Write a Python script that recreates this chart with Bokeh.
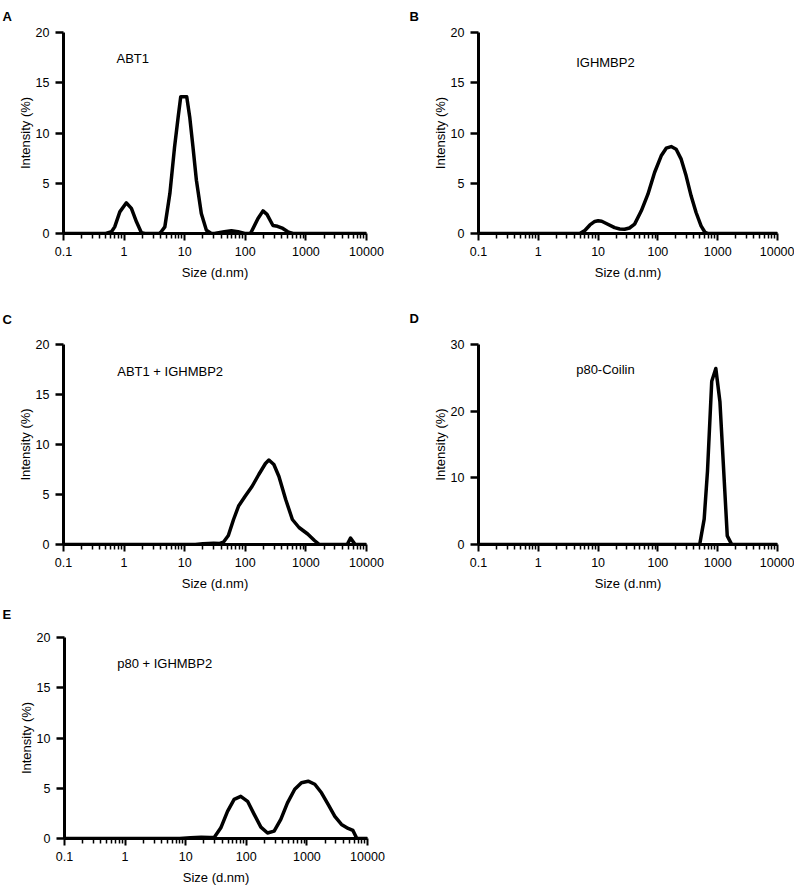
from bokeh.plotting import figure
from bokeh.models import Range1d, FixedTicker, CustomJSTickFormatter, Label
from bokeh.layouts import column, row
from bokeh.embed import file_html
from bokeh.resources import INLINE

FONT = "Liberation Sans"

# ---- data ----
x_major = [0.1, 1, 10, 100, 1000, 10000]
x_minor = [m * d for d in [0.1, 1, 10, 100, 1000] for m in range(2, 10)]
y_ticks_20 = [0, 5, 10, 15, 20]
y_ticks_30 = [0, 10, 20, 30]

abt1_size = [0.1, 0.5, 0.62, 0.70, 0.85, 1.09, 1.32, 1.6, 1.93, 2.2,
             3.8, 4.1, 4.7, 5.7, 6.8, 7.8, 8.6, 10.8, 12.1, 13.7, 15.6, 18.8, 22.8, 27.5,
             31, 45, 59, 76, 98, 120, 126, 162, 196, 228, 286, 340, 417, 503, 610, 10000]
abt1_int = [0, 0, 0.17, 0.66, 2.15, 3.05, 2.5, 1.16, 0.07, 0,
            0, 0.17, 0.66, 4.0, 8.6, 11.6, 13.6, 13.6, 11.6, 8.6, 5.3, 2.0, 0.33, 0,
            0, 0.17, 0.27, 0.17, 0, 0, 0.17, 1.5, 2.25, 1.9, 0.8, 0.72, 0.5, 0.17, 0, 0]

ighmbp2_size = [0.1, 4.94, 6.0, 7.3, 8.8, 10, 11.5, 13.7, 18.9, 23, 27.7, 33.5,
                40.8, 52.8, 68.1, 88, 113.6, 137.7, 166.8, 202, 245, 296.5, 359,
                435, 527, 615, 681, 10000]
ighmbp2_int = [0, 0, 0.3, 0.85, 1.2, 1.27, 1.22, 1.0, 0.58, 0.45, 0.42, 0.55,
               0.93, 2.26, 3.91, 6.07, 7.73, 8.49, 8.65, 8.39, 7.4, 5.74, 3.75,
               2.09, 0.76, 0.1, 0, 0]

mix_size = [0.1, 15, 20, 30, 38, 43.5, 52.5, 64, 77.5, 100, 129, 167, 215, 245,
            296, 359, 464, 598, 770, 1070, 1385, 1670, 4800, 5450, 6500, 10000]
mix_int = [0, 0, 0.08, 0.12, 0.1, 0.23, 0.9, 2.5, 3.85, 4.85, 5.8, 7.0, 8.1, 8.45,
           8.0, 6.8, 4.5, 2.5, 1.7, 1.05, 0.4, 0, 0, 0.65, 0, 0]

p80_size = [0.1, 500, 594, 675, 795, 930, 1090, 1445, 1670, 1750, 10000]
p80_int = [0, 0, 3.8, 11.0, 24.5, 26.4, 21.4, 1.3, 0.2, 0, 0]

p80mix_size = [0.1, 8, 12, 18, 25, 29.5, 38, 49, 63, 81, 105, 135, 174, 224, 288,
               371, 478, 630, 813, 1050, 1350, 1740, 2240, 2890, 3720, 4790, 5750,
               6580, 6900, 10000]
p80mix_int = [0, 0, 0.08, 0.12, 0.1, 0.1, 1.06, 2.7, 3.9, 4.2, 3.7, 2.4, 1.13, 0.55, 0.73,
              1.9, 3.55, 4.9, 5.55, 5.7, 5.4, 4.55, 3.4, 2.2, 1.4, 1.0, 0.8,
              0.07, 0, 0]


def panel(letter, name, sizes, values, y_max, y_ticks, name_x, name_y,
          width, height, left, right, top, bottom, letter_offset, letter_standoff):
    p = figure(width=width, height=height, x_axis_type="log",
               x_range=Range1d(0.1, 10000), y_range=Range1d(0, y_max),
               output_backend="svg", toolbar_location=None,
               min_border_left=left, min_border_right=right,
               min_border_top=top, min_border_bottom=bottom)
    p.outline_line_color = None
    p.xgrid.visible = False
    p.ygrid.visible = False
    p.background_fill_color = "white"
    p.border_fill_color = "white"

    p.line(sizes, values, line_width=3.5, line_color="black", line_join="round")

    xa = p.xaxis[0]
    xa.ticker = FixedTicker(ticks=x_major, minor_ticks=x_minor)
    xa.formatter = CustomJSTickFormatter(code="return tick.toString();")
    xa.axis_label = "Size (d.nm)"
    xa.major_tick_out = 7
    xa.major_tick_in = 0
    xa.minor_tick_out = 5
    xa.minor_tick_in = 0
    xa.major_tick_line_width = 2
    xa.minor_tick_line_width = 1.5
    xa.major_label_standoff = 6
    xa.axis_label_standoff = 6

    ya = p.yaxis[0]
    ya.ticker = FixedTicker(ticks=y_ticks)
    ya.axis_label = "Intensity (%)"
    ya.major_tick_out = 8
    ya.major_tick_in = 0
    ya.minor_tick_line_color = None
    ya.major_tick_line_width = 2.5
    ya.major_label_standoff = 6
    ya.axis_label_standoff = 0

    for ax in (xa, ya):
        ax.axis_line_width = 3
        ax.axis_line_color = "black"
        ax.major_tick_line_color = "black"
        ax.major_label_text_font = FONT
        ax.major_label_text_font_size = "12.5px"
        ax.major_label_text_color = "black"
        ax.axis_label_text_font = FONT
        ax.axis_label_text_font_size = "13px"
        ax.axis_label_text_font_style = "normal"
        ax.axis_label_text_color = "black"
    xa.minor_tick_line_color = "black"

    p.add_layout(Label(x=name_x, y=name_y, text=name, text_baseline="middle",
                       text_align="left", text_font=FONT, text_font_size="13px",
                       text_color="black"))

    # panel letter as the figure title
    p.title.text = letter
    p.title.align = "left"
    p.title.offset = letter_offset
    p.title.vertical_align = "top"
    p.title.standoff = letter_standoff
    p.title.text_font = FONT
    p.title.text_font_size = "13px"
    p.title.text_font_style = "bold"
    p.title.text_color = "black"
    return p


pA = panel("A", "ABT1", abt1_size, abt1_int, 20, y_ticks_20, 0.75, 17.4,
           401, 283, 63, 35, 32, 50, -61, 14)
pB = panel("B", "IGHMBP2", ighmbp2_size, ighmbp2_int, 20, y_ticks_20, 4.3, 17.0,
           393, 283, 77, 17, 32, 50, -69, 14)
pC = panel("C", "ABT1 + IGHMBP2", mix_size, mix_int, 20, y_ticks_20, 0.77, 17.3,
           401, 310, 63, 35, 61, 47, -61, 32)
pD = panel("D", "p80-Coilin", p80_size, p80_int, 30, y_ticks_30, 4.3, 26.3,
           393, 310, 77, 17, 61, 47, -69, 34)
pE = panel("E", "p80 + IGHMBP2", p80mix_size, p80mix_int, 20, y_ticks_20, 0.74, 17.4,
           401, 295, 64, 34, 44, 50, -62, 27)

layout = column(row(pA, pB, spacing=0), row(pC, pD, spacing=0), pE, spacing=0)

open("out.html", "w").write(file_html(layout, INLINE))
